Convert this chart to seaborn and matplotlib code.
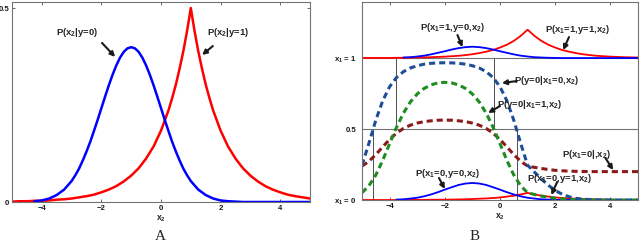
import numpy as np
import matplotlib
matplotlib.use("Agg")
import matplotlib.pyplot as plt
import seaborn as sns

## x2 grid shared by the panel B curves
x2 = np.linspace(-5, 5, 41)

## panel A: class conditional densities (finer sampling near the peaks)
x_a0 = [-4.25, -4.0, -3.75, -3.5, -3.25, -3.0, -2.875, -2.75, -2.625, -2.5, -2.375,
        -2.25, -2.125, -2.0, -1.875, -1.75, -1.625, -1.5, -1.375, -1.25, -1.125, -1.0,
        -0.875, -0.75, -0.625, -0.5, -0.375, -0.25, -0.125, 0.0, 0.125, 0.25, 0.375,
        0.5, 0.625, 0.75, 0.875, 1.0, 1.25, 1.5, 1.75, 2.0, 2.25, 2.5, 2.75, 3.0,
        3.5, 4.0, 4.5, 5.0]
p_x2_y0 = [0.002, 0.004, 0.009, 0.018, 0.032, 0.054, 0.069, 0.086, 0.107, 0.130, 0.155,
           0.183, 0.212, 0.242, 0.272, 0.301, 0.328, 0.352, 0.372, 0.387, 0.396, 0.399,
           0.396, 0.387, 0.372, 0.352, 0.328, 0.301, 0.272, 0.242, 0.212, 0.183, 0.155,
           0.130, 0.107, 0.086, 0.069, 0.054, 0.032, 0.018, 0.009, 0.004, 0.002, 0.001, 0.000, 0.000,
           0.000, 0.000, 0.000, 0.000]
x_a1 = [-5.0, -4.75, -4.5, -4.25, -4.0, -3.75, -3.5, -3.25, -3.0, -2.75, -2.5, -2.25,
        -2.0, -1.75, -1.5, -1.25, -1.0, -0.75, -0.5, -0.25, 0.0, 0.25, 0.375, 0.5,
        0.625, 0.75, 0.875, 1.0, 1.125, 1.25, 1.375, 1.5, 1.625, 1.75, 2.0, 2.25, 2.5,
        2.75, 3.0, 3.25, 3.5, 3.75, 4.0, 4.25, 4.5, 4.75, 5.0]
p_x2_y1 = [0.001, 0.002, 0.002, 0.003, 0.003, 0.004, 0.006, 0.007, 0.009, 0.012,
           0.015, 0.019, 0.025, 0.032, 0.041, 0.053, 0.068, 0.087, 0.112, 0.143,
           0.184, 0.236, 0.268, 0.303, 0.344, 0.389, 0.441, 0.500, 0.441, 0.389, 0.344,
           0.303, 0.268, 0.236, 0.184, 0.143, 0.112, 0.087, 0.068, 0.053, 0.041, 0.032,
           0.025, 0.019, 0.015, 0.012, 0.009]

## panel B: joint densities (drawn on the x1=1 and x1=0 rows)
p_x1_1_y0 = [0.000, 0.000, 0.000, 0.000, 0.001, 0.002, 0.004, 0.006, 0.011, 0.017,
             0.026, 0.037, 0.048, 0.060, 0.070, 0.077, 0.080, 0.077, 0.070, 0.060,
             0.048, 0.037, 0.026, 0.017, 0.011, 0.006, 0.004, 0.002, 0.001, 0.000,
             0.000, 0.000, 0.000, 0.000, 0.000, 0.000, 0.000, 0.000, 0.000, 0.000, 0.000]
p_x1_1_y1 = [0.000, 0.001, 0.001, 0.001, 0.001, 0.002, 0.002, 0.003, 0.004, 0.005,
             0.006, 0.008, 0.010, 0.013, 0.016, 0.021, 0.027, 0.035, 0.045, 0.057,
             0.074, 0.094, 0.121, 0.156, 0.200, 0.156, 0.121, 0.094, 0.074, 0.057,
             0.045, 0.035, 0.027, 0.021, 0.016, 0.013, 0.010, 0.008, 0.006, 0.005, 0.004]
p_x1_0_y0 = [0.000, 0.000, 0.000, 0.001, 0.001, 0.003, 0.005, 0.010, 0.016, 0.026,
             0.039, 0.055, 0.073, 0.090, 0.106, 0.116, 0.120, 0.116, 0.106, 0.090,
             0.073, 0.055, 0.039, 0.026, 0.016, 0.010, 0.005, 0.003, 0.001, 0.001,
             0.000, 0.000, 0.000, 0.000, 0.000, 0.000, 0.000, 0.000, 0.000, 0.000, 0.000]
p_x1_0_y1 = [0.000, 0.000, 0.000, 0.000, 0.000, 0.000, 0.001, 0.001, 0.001, 0.001,
             0.002, 0.002, 0.002, 0.003, 0.004, 0.005, 0.007, 0.009, 0.011, 0.014,
             0.018, 0.024, 0.030, 0.039, 0.050, 0.039, 0.030, 0.024, 0.018, 0.014,
             0.011, 0.009, 0.007, 0.005, 0.004, 0.003, 0.002, 0.002, 0.002, 0.001, 0.001]

## panel B: posteriors (dashed)
post_y0_x1_0 = [0.245, 0.399, 0.562, 0.699, 0.798, 0.863, 0.904, 0.930, 0.946, 0.957,
                0.963, 0.966, 0.967, 0.966, 0.963, 0.957, 0.946, 0.930, 0.904, 0.863,
                0.798, 0.699, 0.562, 0.399, 0.245, 0.196, 0.148, 0.104, 0.067, 0.041,
                0.023, 0.012, 0.006, 0.003, 0.001, 0.001, 0.000, 0.000, 0.000, 0.000, 0.000]
post_y0_x1_1 = [0.051, 0.100, 0.176, 0.279, 0.397, 0.512, 0.612, 0.690, 0.747, 0.786,
                0.811, 0.825, 0.829, 0.825, 0.811, 0.786, 0.747, 0.690, 0.612, 0.512,
                0.397, 0.279, 0.176, 0.100, 0.051, 0.039, 0.028, 0.019, 0.012, 0.007,
                0.004, 0.002, 0.001, 0.000, 0.000, 0.000, 0.000, 0.000, 0.000, 0.000, 0.000]
post_x1_0 = [0.239, 0.272, 0.320, 0.374, 0.427, 0.471, 0.504, 0.527, 0.542, 0.552,
             0.558, 0.562, 0.563, 0.562, 0.558, 0.552, 0.542, 0.527, 0.504, 0.471,
             0.427, 0.374, 0.320, 0.273, 0.239, 0.230, 0.222, 0.215, 0.209, 0.206,
             0.203, 0.202, 0.201, 0.200, 0.200, 0.200, 0.200, 0.200, 0.200, 0.200, 0.200]

## where the posteriors cross 0.5 (lower crossings: blue, upper crossings: green)
cross_low = [-4.6, 0.6]
cross_high = [-3.77, -0.23]

sns.set_theme(style="ticks")
plt.rcParams['font.family'] = ['Liberation Sans', 'DejaVu Sans']
plt.rcParams['mathtext.fontset'] = 'custom'
plt.rcParams['mathtext.bf'] = 'Liberation Sans:bold'
plt.rcParams['mathtext.rm'] = 'Liberation Sans:bold'
plt.rcParams['mathtext.default'] = 'bf'

fig = plt.figure(figsize=(6.4, 2.43), dpi=100)
axA = fig.add_axes([12 / 640, 1 - 202 / 243, 298 / 640, 200 / 243])
axB = fig.add_axes([362 / 640, 1 - 200 / 243, 276 / 640, 198 / 243])

fs = 5.6      # tick labels
fs_note = 6.8  # annotations
arrow = dict(arrowstyle='-|>', color='k', lw=1.5, mutation_scale=7, shrinkA=0, shrinkB=0)


def style_axes(ax):
    ax.tick_params(direction='in', length=2.5, width=0.6, top=True, right=True,
                   labelsize=fs, pad=2, colors='0.3', labelcolor='k')
    for lab in ax.get_xticklabels() + ax.get_yticklabels():
        lab.set_fontweight('bold')
    for s in ax.spines.values():
        s.set_color('0.45')
        s.set_linewidth(0.8)
        s.set_visible(True)
    ax.set_xlim(-5, 5)
    ax.set_xticks([-4, -2, 0, 2, 4])
    ax.set_xlabel('x$_2$', fontsize=fs + 0.6, fontweight='bold', labelpad=1)


## ---- panel A
sns.lineplot(x=x_a1, y=p_x2_y1, ax=axA, color='red', lw=1.8, sort=False, errorbar=None)
sns.lineplot(x=x_a0, y=p_x2_y0, ax=axA, color='blue', lw=1.8, sort=False, errorbar=None)
axA.set_ylim(0, 0.5155)
axA.set_yticks([0, 0.5])
axA.set_yticklabels(['0', '0.5'])
style_axes(axA)
axA.text(-2.8, 0.436, 'P(x$_2$|y=0)', fontsize=fs_note, fontweight='bold', ha='center', va='center')
axA.annotate('', xy=(-1.54, 0.374), xytext=(-1.98, 0.41), arrowprops=arrow)
axA.text(2.25, 0.436, 'P(x$_2$|y=1)', fontsize=fs_note, fontweight='bold', ha='center', va='center')
axA.annotate('', xy=(1.38, 0.379), xytext=(1.74, 0.402), arrowprops=arrow)

## ---- panel B
axB.axhline(0.5, color='0.45', lw=0.8)
axB.axhline(1.0, color='0.45', lw=0.8)
axB.vlines(cross_low, 0, 0.5, color='0.3', lw=0.7)
axB.vlines(cross_high, 0.5, 1.0, color='0.3', lw=0.7)

top = 1.0
sns.lineplot(x=x2, y=np.array(p_x1_1_y1) + top, ax=axB, color='red', lw=1.3, sort=False, errorbar=None)
sns.lineplot(x=x2[6:], y=np.array(p_x1_1_y0[6:]) + top, ax=axB, color='blue', lw=1.3, sort=False, errorbar=None)
sns.lineplot(x=x2[:37], y=p_x1_0_y1[:37], ax=axB, color='red', lw=1.3, sort=False, errorbar=None)
sns.lineplot(x=x2[5:], y=p_x1_0_y0[5:], ax=axB, color='blue', lw=1.3, sort=False, errorbar=None)

dash = (0, (2.0, 1.3))
sns.lineplot(x=x2, y=post_x1_0, ax=axB, color='#8b1a1a', lw=2.2, linestyle=dash, sort=False, errorbar=None)
sns.lineplot(x=x2, y=post_y0_x1_1, ax=axB, color='#1e8c1e', lw=2.2, linestyle=dash, sort=False, errorbar=None)
sns.lineplot(x=x2, y=post_y0_x1_0, ax=axB, color='#1f4e99', lw=2.2, linestyle=dash, sort=False, errorbar=None)

axB.set_ylim(0, 1.395)
axB.set_yticks([0, 0.5, 1])
axB.set_yticklabels(['x$_1$ = 0', '0.5', 'x$_1$ = 1'])
style_axes(axB)
axB.tick_params(axis='y', pad=4)

notes = [
    ('P(x$_1$=1,y=0,x$_2$)', (-1.71, 1.218), (-1.36, 1.077), (-1.54, 1.162)),
    ('P(x$_1$=1,y=1,x$_2$)', (2.79, 1.204), (2.29, 1.056), (2.5, 1.148)),
    ('P(y=0|x$_1$=0,x$_2$)', (1.68, 0.845), (0.07, 0.824), (0.61, 0.838)),
    ('P(y=0|x$_1$=1,x$_2$)', (1.07, 0.676), (-0.43, 0.613), (0.0, 0.662)),
    ('P(x$_1$=0|,x$_2$)', (3.14, 0.324), (4.1, 0.211), (3.82, 0.296)),
    ('P(x$_1$=0,y=0,x$_2$)', (-1.9, 0.19), (-2.0, 0.077), (-2.21, 0.155)),
    ('P(x$_1$=0,y=1,x$_2$)', (2.14, 0.155), (1.86, 0.035), (2.07, 0.127)),
]
for txt, pos, head, tail in notes:
    axB.text(pos[0], pos[1], txt, fontsize=fs_note, fontweight='bold', ha='center', va='center')
    axB.annotate('', xy=head, xytext=tail, arrowprops=arrow)

fig.text(160 / 640, 0.0, 'A', family='Liberation Serif', fontsize=11, ha='center', va='bottom')
fig.text(475 / 640, 0.0, 'B', family='Liberation Serif', fontsize=11, ha='center', va='bottom')

fig.savefig('out.png', dpi=100)
